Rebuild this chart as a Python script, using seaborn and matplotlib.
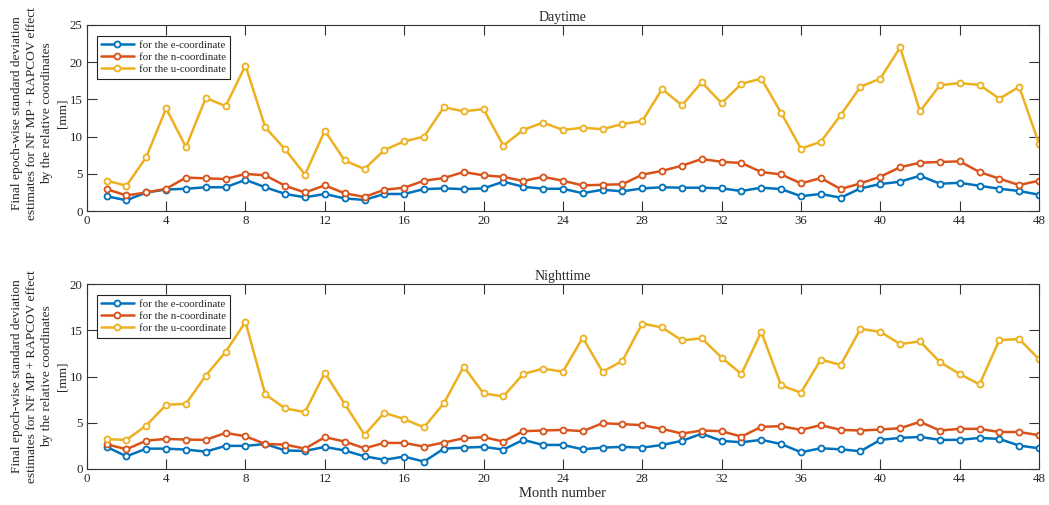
import numpy as np
import pandas as pd
import matplotlib
matplotlib.use("Agg")
import matplotlib.pyplot as plt
import seaborn as sns

months = list(range(1, 49))

day_e = [2.0, 1.45, 2.5, 2.9, 3.0, 3.2, 3.2, 4.2, 3.2, 2.3, 1.85, 2.3, 1.7, 1.5, 2.3,
         2.3, 2.95, 3.05, 2.95, 3.05, 3.95, 3.27, 3.0, 3.0, 2.4, 2.87, 2.65, 3.05, 3.2, 3.14, 3.14,
         3.05, 2.7, 3.14, 2.96, 2.0, 2.3, 1.8, 3.05, 3.63, 3.95, 4.75, 3.68, 3.8, 3.4, 3.0, 2.7, 2.2]
day_n = [2.95, 2.1, 2.5, 3.0, 4.5, 4.4, 4.3, 5.0, 4.8, 3.4, 2.5, 3.45, 2.4, 1.9, 2.87,
         3.14, 4.08, 4.44, 5.25, 4.8, 4.6, 4.04, 4.6, 4.08, 3.45, 3.54, 3.6, 4.9, 5.4, 6.1, 7.0,
         6.62, 6.46, 5.25, 4.93, 3.72, 4.44, 2.96, 3.72, 4.62, 5.9, 6.5, 6.6, 6.68, 5.25, 4.35, 3.5, 4.08]
day_u = [4.1, 3.4, 7.25, 13.8, 8.6, 15.2, 14.1, 19.55, 11.25, 8.3, 4.9, 10.8, 6.8, 5.65, 8.2,
         9.37, 10.0, 13.95, 13.4, 13.7, 8.8, 10.9, 11.9, 10.9, 11.2, 11.0, 11.7, 12.1, 16.4, 14.2, 17.3,
         14.5, 17.1, 17.8, 13.2, 8.4, 9.3, 12.9, 16.7, 17.8, 22.0, 13.4, 16.9, 17.2, 16.95, 15.1, 16.7, 9.06]

night_e = [2.39, 1.37, 2.2, 2.2, 2.1, 1.88, 2.5, 2.5, 2.7, 2.0, 1.95, 2.39, 2.0, 1.37, 1.0,
           1.34, 0.8, 2.2, 2.31, 2.39, 2.1, 3.15, 2.6, 2.6, 2.13, 2.31, 2.39, 2.31, 2.6, 3.04, 3.82,
           3.04, 2.89, 3.15, 2.7, 1.81, 2.24, 2.13, 1.92, 3.15, 3.36, 3.47, 3.15, 3.15, 3.36, 3.25, 2.53, 2.24]
night_n = [2.68, 2.13, 3.07, 3.25, 3.18, 3.15, 3.9, 3.54, 2.7, 2.64, 2.2, 3.44, 2.97, 2.24, 2.82,
           2.82, 2.42, 2.86, 3.33, 3.44, 2.97, 4.09, 4.16, 4.23, 4.09, 4.95, 4.85, 4.74, 4.34, 3.83, 4.16,
           4.09, 3.5, 4.56, 4.63, 4.23, 4.74, 4.23, 4.16, 4.27, 4.41, 5.1, 4.16, 4.34, 4.34, 4.0, 4.0, 3.65]
night_u = [3.22, 3.15, 4.7, 6.94, 7.05, 10.1, 12.66, 15.9, 8.07, 6.55, 6.15, 10.4, 7.05, 3.7, 6.08,
           5.39, 4.5, 7.1, 11.07, 8.17, 7.85, 10.27, 10.85, 10.52, 14.2, 10.52, 11.68, 15.73, 15.3, 13.9, 14.14,
           12.04, 10.27, 14.83, 9.04, 8.25, 11.83, 11.25, 15.15, 14.83, 13.5, 13.8, 11.57, 10.27, 9.15, 13.94, 14.05, 11.86]

series_labels = ["for the e-coordinate", "for the n-coordinate", "for the u-coordinate"]
colors = ["#0072BD", "#D95319", "#EDB120"]
panel_titles = ["Daytime", "Nighttime"]
x_ticks = list(range(0, 49, 4))
ylabel = ("Final epoch-wise standard deviation\nestimates for NF MP + RAPCOV effect\n"
          "by the relative coordinates\n[mm]")

sns.set_style("ticks")
plt.rcParams["font.family"] = ["Liberation Serif", "DejaVu Serif"]
plt.rcParams["xtick.direction"] = "in"
plt.rcParams["ytick.direction"] = "in"

def make_df(e, n, u):
    frames = []
    for lab, vals in zip(series_labels, [e, n, u]):
        frames.append(pd.DataFrame({"month": months, "value": vals, "series": lab}))
    return pd.concat(frames, ignore_index=True)

fig = plt.figure(figsize=(10.49, 5.05), dpi=100)
ax1 = fig.add_axes([0.0827, 0.582, 0.9078, 0.3685])
ax2 = fig.add_axes([0.0827, 0.0713, 0.9078, 0.3663])

for ax, data, title, ymax, ly in [(ax1, (day_e, day_n, day_u), panel_titles[0], 25, 0.525),
                                  (ax2, (night_e, night_n, night_u), panel_titles[1], 20, 0.5)]:
    df = make_df(*data)
    sns.lineplot(data=df, x="month", y="value", hue="series", palette=colors,
                 marker="o", markersize=4.3, markerfacecolor="white", markeredgewidth=1.3,
                 linewidth=1.8, ax=ax)
    for mkline, c in zip(ax.lines, colors):
        mkline.set_markeredgecolor(c)
    ax.set_xlim(0, 48)
    ax.set_ylim(0, ymax)
    ax.set_xticks(x_ticks)
    ax.set_yticks(list(range(0, ymax + 1, 5)))
    ax.tick_params(axis="both", labelsize=9.3, length=7, width=0.8, color="#333333",
                   top=True, right=True, pad=3)
    for s in ax.spines.values():
        s.set_visible(True)
        s.set_color("#333333")
        s.set_linewidth(0.8)
    ax.set_title(title, fontsize=10, pad=3)
    ax.set_ylabel(ylabel, fontsize=9.6, linespacing=1.36)
    ax.yaxis.set_label_coords(-0.019, ly)
    ax.set_xlabel("")
    handles, labels = ax.get_legend_handles_labels()
    for h, c in zip(handles, colors):
        h.set_markeredgecolor(c)
        h.set_markerfacecolor("white")
    leg = ax.legend(handles, labels, loc="upper left", fontsize=7.8, frameon=True,
                    fancybox=False, edgecolor="#222222", framealpha=1,
                    handlelength=3.0, borderpad=0.4, labelspacing=0.25,
                    handletextpad=0.5, borderaxespad=0, bbox_to_anchor=(0.0105, 0.942))
    leg.get_frame().set_linewidth(0.8)

ax2.set_xlabel("Month number", fontsize=10.5, labelpad=1)

fig.savefig("out.png", dpi=100)
